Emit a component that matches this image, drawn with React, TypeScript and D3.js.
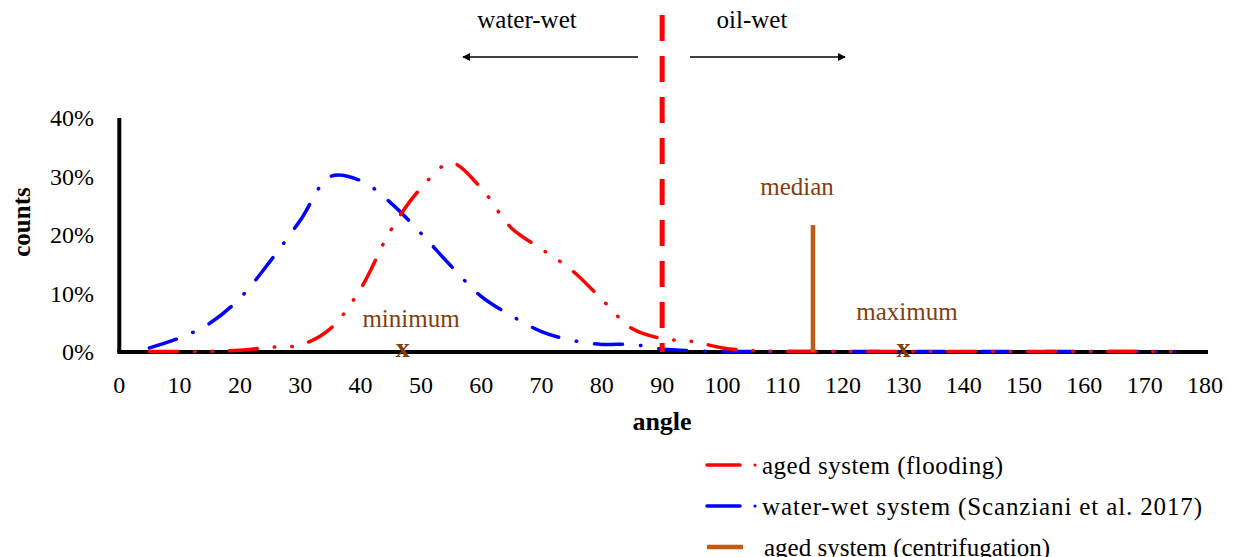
import React from "react";
import * as d3 from "d3";

const angles = [5, 10, 15, 20, 25, 30, 35, 40, 45, 50, 55, 60, 65, 70, 75, 80, 85, 90, 95, 100, 105, 110, 115, 120, 125, 130, 135, 140, 145, 150, 155, 160, 165, 170, 175];
const agedFlooding = [0.1, 0.1, 0.1, 0.3, 0.8, 1.2, 4.0, 10.8, 20.8, 28.0, 32.3, 28.0, 21.2, 17.6, 14.0, 9.0, 4.0, 2.3, 1.8, 0.7, 0.2, 0.1, 0.1, 0.1, 0.1, 0.1, 0.1, 0.1, 0.1, 0.1, 0.1, 0.1, 0.1, 0.1, 0.1];
const waterWet = [0.7, 2.4, 4.9, 9.2, 15.5, 22.5, 30.0, 29.3, 25.5, 20.3, 14.7, 9.5, 6.2, 3.5, 2.0, 1.3, 1.3, 0.5, 0.2, 0.1, 0.1, 0.1, 0.1, 0.1, 0.1, 0.1, 0.1, 0.1, 0.1, 0.1, 0.1, 0.1, 0.1, 0.1, 0.1];
const xTicks = [0, 10, 20, 30, 40, 50, 60, 70, 80, 90, 100, 110, 120, 130, 140, 150, 160, 170, 180];
const yTicks = [0, 10, 20, 30, 40];
const medianAngle = 115;
const medianHeight = 21.7;
const minimumAngle = 47;
const maximumAngle = 130;
const boundaryAngle = 90;
const legendLabels = ["aged system  (flooding)", "water-wet system (Scanziani et al. 2017)", "aged system (centrifugation)"];

const FONT = "'Liberation Serif', 'Times New Roman', serif";
const RED = "#FF0000";
const BLUE = "#0000FF";
const ORANGE = "#C55A11";
const BROWN = "#843C0C";

export default function App() {
  const x = d3.scaleLinear().domain([0, 180]).range([119.3, 1205]);
  const y = d3.scaleLinear().domain([0, 40]).range([352, 118]);
  const line = d3
    .line<[number, number]>()
    .x((d) => x(d[0]))
    .y((d) => y(d[1]))
    .curve(d3.curveCatmullRom.alpha(0.5));
  const redPath = line(angles.map((a, i) => [a, agedFlooding[i]]) as [number, number][]) || "";
  const bluePath = line(angles.map((a, i) => [a, waterWet[i]]) as [number, number][]) || "";

  const redDash = "28 17 0.5 17 0.5 17";
  const blueDash = "28 18 0.5 18";
  const legendY = [465, 506, 547];

  return (
    <svg
      width={1234}
      height={557}
      style={{ position: "absolute", left: 0, top: 0, background: "#fff" }}
      fontFamily={FONT}
    >
      <defs>
        <marker id="arr" viewBox="0 0 10 10" refX="9" refY="5" markerWidth="8" markerHeight="8" markerUnits="userSpaceOnUse" orient="auto">
          <path d="M0,0 L10,5 L0,10 z" fill="#000" />
        </marker>
      </defs>
      <rect x={0} y={0} width={1234} height={557} fill="#fff" />

      {/* top wettability annotation */}
      <text x={527} y={28} fontSize={25} textAnchor="middle" fill="#000">water-wet</text>
      <text x={752} y={28} fontSize={25} textAnchor="middle" fill="#000">oil-wet</text>
      <line x1={638} y1={57} x2={463} y2={57} stroke="#000" strokeWidth={1.5} markerEnd="url(#arr)" />
      <line x1={690} y1={57} x2={845} y2={57} stroke="#000" strokeWidth={1.5} markerEnd="url(#arr)" />

      {/* axes */}
      <line x1={x(0)} y1={y(40)} x2={x(0)} y2={y(0)} stroke="#000" strokeWidth={4} />
      <line x1={x(0) - 2} y1={y(0)} x2={1208} y2={y(0)} stroke="#000" strokeWidth={4} />

      {yTicks.map((t) => (
        <text key={"y" + t} x={94} y={y(t)} fontSize={24} textAnchor="end" dominantBaseline="central" fill="#000">
          {t + "%"}
        </text>
      ))}
      {xTicks.map((t) => (
        <text key={"x" + t} x={x(t)} y={393} fontSize={24} textAnchor="middle" fill="#000">
          {t}
        </text>
      ))}
      <text x={662} y={430} fontSize={26} fontWeight="bold" textAnchor="middle" fill="#000">angle</text>
      <text transform="translate(30,222) rotate(-90)" fontSize={25} fontWeight="bold" textAnchor="middle" fill="#000">counts</text>

      {/* curves */}
      <path d={bluePath} fill="none" stroke={BLUE} strokeWidth={3.5} strokeDasharray={blueDash} strokeLinecap="round" />
      <path d={redPath} fill="none" stroke={RED} strokeWidth={3.5} strokeDasharray={redDash} strokeLinecap="round" />

      {/* 90 degree boundary */}
      <line x1={x(boundaryAngle)} y1={15} x2={x(boundaryAngle)} y2={y(0)} stroke={RED} strokeWidth={5} strokeDasharray="26 15" />

      {/* centrifugation median */}
      <line x1={x(medianAngle)} y1={y(medianHeight)} x2={x(medianAngle)} y2={y(0)} stroke={ORANGE} strokeWidth={4.5} />
      <text x={797} y={195} fontSize={25} textAnchor="middle" fill={BROWN}>median</text>
      <text x={411} y={327} fontSize={25} textAnchor="middle" fill={BROWN}>minimum</text>
      <text x={907} y={320} fontSize={25} textAnchor="middle" fill={BROWN}>maximum</text>
      <text x={x(minimumAngle)} y={357} fontSize={28} fontWeight="bold" textAnchor="middle" fill={BROWN}>x</text>
      <text x={x(maximumAngle)} y={357} fontSize={28} fontWeight="bold" textAnchor="middle" fill={BROWN}>x</text>

      {/* legend */}
      <line x1={707} y1={legendY[0]} x2={740} y2={legendY[0]} stroke={RED} strokeWidth={3.5} strokeLinecap="round" />
      <circle cx={755} cy={legendY[0]} r={1.6} fill={RED} />
      <text x={762} y={legendY[0]} fontSize={25} dominantBaseline="central" fill="#000" textLength={241} lengthAdjust="spacing">{legendLabels[0]}</text>
      <line x1={707} y1={legendY[1]} x2={740} y2={legendY[1]} stroke={BLUE} strokeWidth={3.5} strokeLinecap="round" />
      <circle cx={755} cy={legendY[1]} r={1.6} fill={BLUE} />
      <text x={762} y={legendY[1]} fontSize={25} dominantBaseline="central" fill="#000" textLength={440} lengthAdjust="spacing">{legendLabels[1]}</text>
      <line x1={707} y1={legendY[2]} x2={743} y2={legendY[2]} stroke={ORANGE} strokeWidth={4.5} />
      <text x={764} y={legendY[2]} fontSize={25} dominantBaseline="central" fill="#000">{legendLabels[2]}</text>
    </svg>
  );
}
